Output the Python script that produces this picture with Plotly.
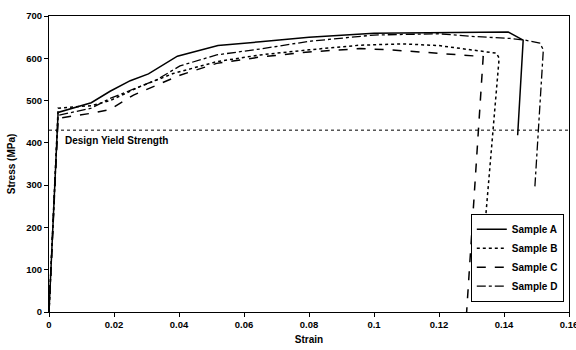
import plotly.graph_objects as go

# ---- data ----
strain_a = [0, 0.0028, 0.013, 0.0188, 0.025, 0.0306, 0.0395, 0.052, 0.065, 0.08, 0.1, 0.12, 0.1413, 0.1459, 0.1442]
stress_a = [0, 472, 495, 522, 547, 563, 605, 630, 639, 650, 659, 661, 662, 643, 418]

strain_b = [0, 0.0028, 0.013, 0.0188, 0.028, 0.0382, 0.0516, 0.065, 0.08, 0.0957, 0.109, 0.12, 0.1377, 0.1385, 0.1342]
stress_b = [0, 482, 488, 500, 533, 564, 592, 608, 620, 631, 634, 630, 612, 600, 210]

strain_c = [0, 0.0028, 0.013, 0.0188, 0.026, 0.0331, 0.0403, 0.0516, 0.065, 0.08, 0.0957, 0.105, 0.1336, 0.1285]
stress_c = [0, 458, 470, 479, 513, 537, 560, 588, 603, 615, 623, 620, 604, 0]

strain_d = [0, 0.0028, 0.013, 0.0188, 0.0331, 0.0403, 0.0516, 0.065, 0.08, 0.1, 0.12, 0.1295, 0.1418, 0.1465, 0.151, 0.1521, 0.1495]
stress_d = [0, 465, 482, 505, 549, 582, 608, 622, 640, 655, 658, 652, 647, 643, 636, 620, 296]

yield_strain = [0, 0.16]
yield_stress = [430, 430]
yield_label = "Design Yield Strength"
yield_label_pos = (0.0043, 405)

series = [
    ("Sample A", strain_a, stress_a, "solid", 1.5),
    ("Sample B", strain_b, stress_b, "dot", 1.5),
    ("Sample C", strain_c, stress_c, "dash", 1.5),
    ("Sample D", strain_d, stress_d, "dashdot", 1.3),
]

FONT = "Liberation Sans, Arial, sans-serif"

fig = go.Figure()
fig.add_trace(go.Scatter(x=yield_strain, y=yield_stress, mode="lines",
                         line=dict(color="black", width=1, dash="dot"),
                         showlegend=False, hoverinfo="skip"))
for name, xs, ys, dash, w in series:
    fig.add_trace(go.Scatter(x=xs, y=ys, mode="lines", name=name,
                             line=dict(color="black", width=w, dash=dash)))

fig.add_annotation(x=yield_label_pos[0], y=yield_label_pos[1], text=yield_label,
                   showarrow=False, xanchor="left", yanchor="middle",
                   font=dict(family=FONT, size=10, color="black", weight="bold"))

fig.update_layout(
    width=576, height=350,
    margin=dict(l=49, r=7, t=16, b=38, autoexpand=False),
    paper_bgcolor="white", plot_bgcolor="white",
    font=dict(family=FONT, size=9.5, color="black", weight="bold"),
    legend=dict(x=0.99, y=0.035, xanchor="right", yanchor="bottom",
                bordercolor="black", borderwidth=1, bgcolor="white",
                font=dict(family=FONT, size=10, color="black", weight="bold"),
                itemwidth=30, tracegroupgap=0),
    xaxis=dict(range=[0, 0.16], dtick=0.02, tick0=0, showgrid=False, zeroline=False,
               showline=True, linecolor="black", linewidth=1, mirror=True,
               ticks="outside", ticklen=4, tickcolor="black", ticklabeloverflow="allow",
               automargin=False,
               title=dict(text="Strain", font=dict(family=FONT, size=10, weight="bold"), standoff=6)),
    yaxis=dict(range=[0, 700], dtick=100, tick0=0, showgrid=False, zeroline=False,
               showline=True, linecolor="black", linewidth=1, mirror=True,
               ticks="outside", ticklen=4, tickcolor="black", automargin=False,
               title=dict(text="Stress (MPa)", font=dict(family=FONT, size=10, weight="bold"), standoff=8)),
)

fig.write_html("out.html")
